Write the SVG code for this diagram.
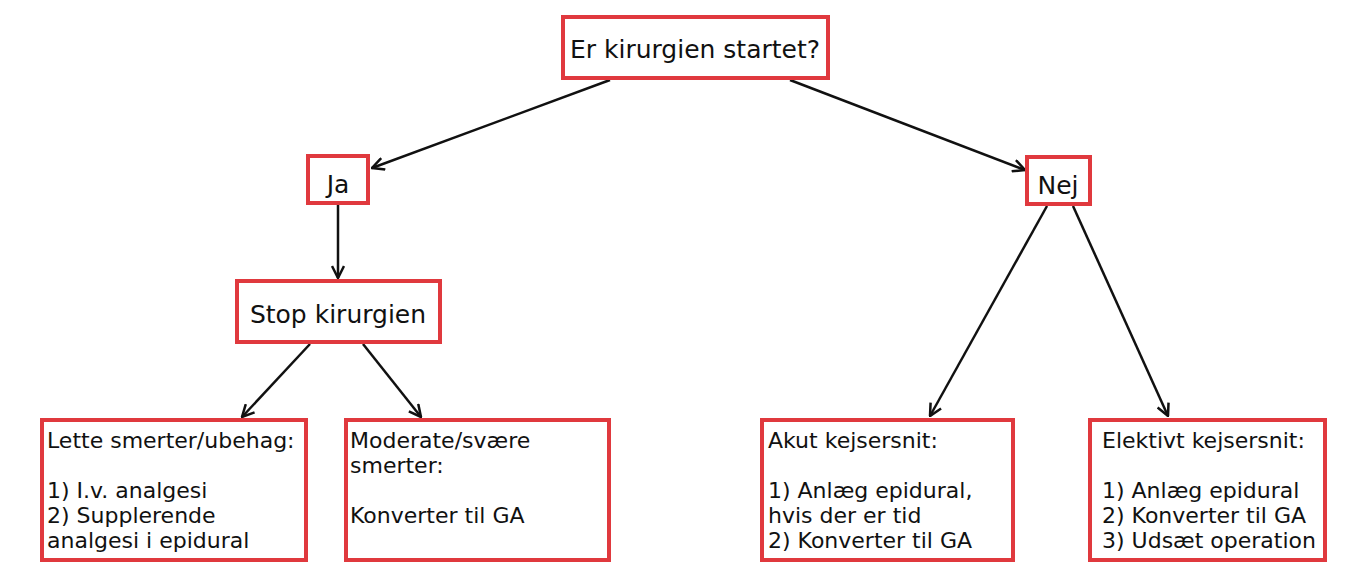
<svg xmlns="http://www.w3.org/2000/svg" width="1358" height="578" viewBox="0 0 1358 578">
<style>
.b{fill:#fff;stroke:#e0393e;stroke-width:4}
text{font-family:"DejaVu Sans",Verdana,sans-serif;fill:#111}
.t{font-size:25px;text-anchor:middle}
.s{font-size:22px}
.c line{stroke:#111;stroke-width:2.5;marker-end:url(#a)}
</style>
<defs><marker id="a" viewBox="0 0 14 14" refX="13" refY="7" markerWidth="14" markerHeight="14" markerUnits="userSpaceOnUse" orient="auto"><path d="M1,1 L13,7 L1,13" fill="none" stroke="#111" stroke-width="2.5"/></marker></defs>
<rect width="1358" height="578" fill="#fff"/>
<g class="c">
<line x1="610" y1="80" x2="372" y2="168"/>
<line x1="790" y1="80" x2="1025" y2="170"/>
<line x1="338" y1="205" x2="338" y2="278"/>
<line x1="310" y1="344" x2="242" y2="417"/>
<line x1="363" y1="344" x2="421" y2="417"/>
<line x1="1047" y1="206" x2="930" y2="416"/>
<line x1="1073" y1="206" x2="1168" y2="416"/>
</g>
<g id="top"><rect class="b" x="563" y="17" width="265" height="61"/><text class="t" x="695" y="58">Er kirurgien startet?</text></g>
<g id="ja"><rect class="b" x="308" y="156" width="60" height="47"/><text class="t" x="338" y="193">Ja</text></g>
<g id="nej"><rect class="b" x="1027" y="157" width="63" height="47"/><text class="t" x="1058" y="194">Nej</text></g>
<g id="stop"><rect class="b" x="237" y="281" width="203" height="61"/><text class="t" x="338" y="323">Stop kirurgien</text></g>
<g id="lette"><rect class="b" x="42" y="420" width="264" height="140"/><text class="s" x="47" y="448">Lette smerter/ubehag:</text><text class="s" x="47" y="498">1) I.v. analgesi</text><text class="s" x="47" y="523">2) Supplerende</text><text class="s" x="47" y="548">analgesi i epidural</text></g>
<g id="moderate"><rect class="b" x="346" y="420" width="263" height="140"/><text class="s" x="350" y="448">Moderate/svære</text><text class="s" x="350" y="473">smerter:</text><text class="s" x="350" y="523">Konverter til GA</text></g>
<g id="akut"><rect class="b" x="762" y="420" width="251" height="140"/><text class="s" x="768" y="448">Akut kejsersnit:</text><text class="s" x="768" y="498">1) Anlæg epidural,</text><text class="s" x="768" y="523">hvis der er tid</text><text class="s" x="768" y="548">2) Konverter til GA</text></g>
<g id="elektivt"><rect class="b" x="1090" y="420" width="235" height="140"/><text class="s" x="1102" y="448">Elektivt kejsersnit:</text><text class="s" x="1102" y="498">1) Anlæg epidural</text><text class="s" x="1102" y="523">2) Konverter til GA</text><text class="s" x="1102" y="548">3) Udsæt operation</text></g>
</svg>
